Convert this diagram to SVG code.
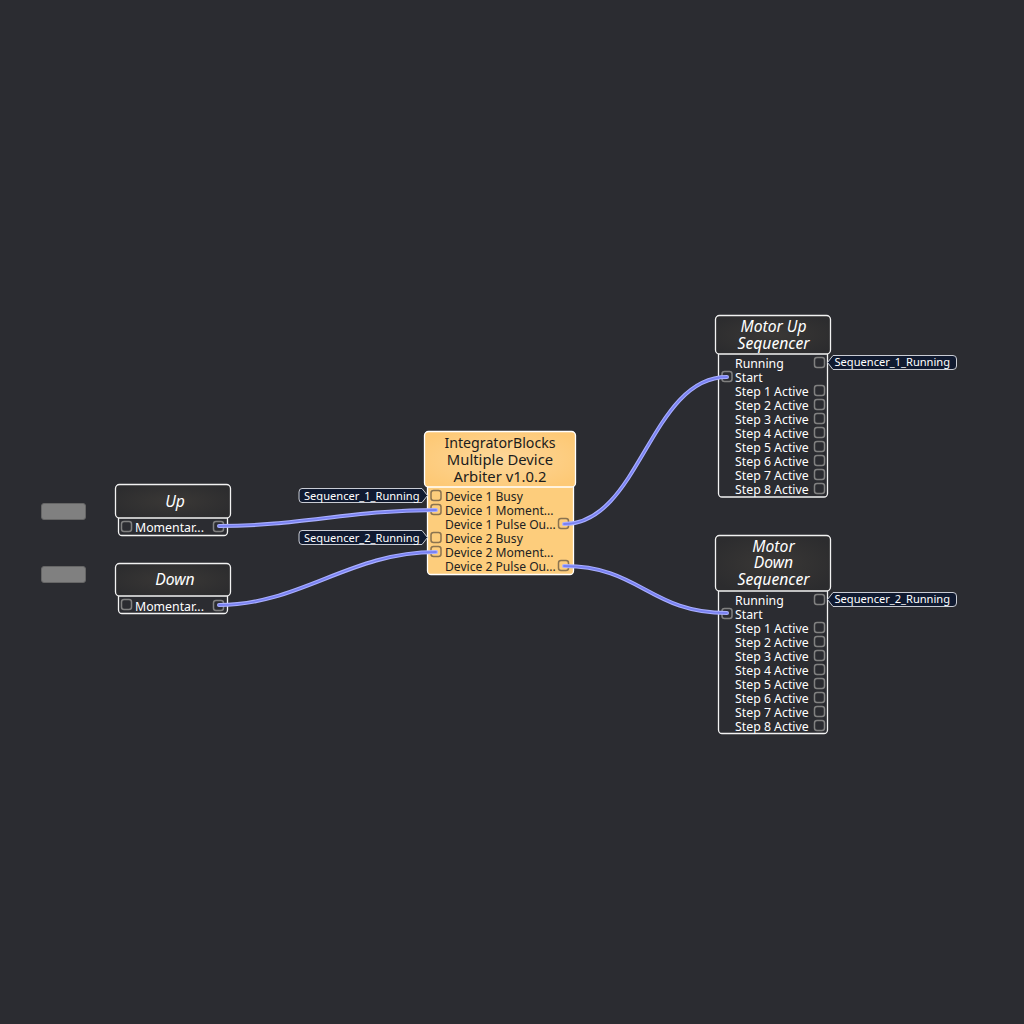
<svg xmlns="http://www.w3.org/2000/svg" width="1024" height="1024" viewBox="0 0 1024 1024">
<defs>
<radialGradient id="gd" cx="50%" cy="50%" r="60%"><stop offset="0" stop-color="#3a3836"/><stop offset="1" stop-color="#2c2c2e"/></radialGradient>
<radialGradient id="go" cx="50%" cy="50%" r="60%"><stop offset="0" stop-color="#fdd79a"/><stop offset="1" stop-color="#fdc976"/></radialGradient>
<style>
text{font-family:"Noto Sans","Open Sans","Liberation Sans",sans-serif}
.hd{fill:url(#gd);stroke:#f2f2f2;stroke-width:1.300}
.bd{fill:#2b2c31;stroke:#f2f2f2;stroke-width:1.300}
.ohd{fill:url(#go);stroke:#fff;stroke-width:1.300}
.obd{fill:#fdcd7c;stroke:#fff;stroke-width:1.300}
.t{font-size:15.700px;font-style:italic;fill:#fff;text-anchor:middle}
.ot{font-size:14.800px;fill:#1c1c1c;text-anchor:middle}
.r{font-size:12.300px;fill:#fff}
.or{font-size:12.100px;fill:#222}
.p{fill:none;stroke:#808080;stroke-width:1.500}
.op{fill:none;stroke:#8a7350;stroke-width:1.500}
.tag{fill:#101a30;stroke:#c9ccd4;stroke-width:1}
.tt{font-size:11.100px;fill:#fff}
.w{fill:none;stroke:#a9afff;stroke-width:4;stroke-linecap:round}
.w2{fill:none;stroke:#7a82f2;stroke-width:1.800;stroke-linecap:round}
.btn{fill:#808080;stroke:#666;stroke-width:1}
</style>
</defs>
<rect width="1024" height="1024" fill="#2b2c31"/>
<g id="button-1"><rect class="btn" x="41.500" y="503.500" width="44" height="16" rx="2.500"/></g>
<g id="button-2"><rect class="btn" x="41.500" y="566.500" width="44" height="16" rx="2.500"/></g>
<g id="up">
<rect class="bd" x="118.500" y="515" width="109" height="20.500" rx="3.500"/>
<rect class="hd" x="115.500" y="484.500" width="115" height="33.500" rx="4"/>
<text class="t" x="175" y="507">Up</text>
<rect class="p" x="121.500" y="521.500" width="10" height="10" rx="2.500"/>
<text class="r" x="135" y="531.500">Momentar...</text>
<rect class="p" x="213.500" y="521.500" width="10" height="10" rx="2.500"/>
</g>
<g id="down">
<rect class="bd" x="118.500" y="593" width="109" height="20.500" rx="3.500"/>
<rect class="hd" x="115.500" y="563.500" width="115" height="32.500" rx="4"/>
<text class="t" x="175" y="585">Down</text>
<rect class="p" x="121.500" y="599.500" width="10" height="10" rx="2.500"/>
<text class="r" x="135" y="610.500">Momentar...</text>
<rect class="p" x="213.500" y="600.500" width="10" height="10" rx="2.500"/>
</g>
<g id="arbiter">
<rect class="obd" x="427.500" y="484" width="146" height="90.500" rx="3.500"/>
<rect class="ohd" x="424.500" y="431.500" width="151" height="55.500" rx="4"/>
<text class="ot" x="500" y="448" style="font-size:14.200px">IntegratorBlocks</text>
<text class="ot" x="500" y="465">Multiple Device</text>
<text class="ot" x="500" y="482">Arbiter v1.0.2</text>
<rect class="op" x="431" y="490.500" width="10" height="10" rx="2.500"/>
<rect class="op" x="431" y="504.500" width="10" height="10" rx="2.500"/>
<rect class="op" x="431" y="532.500" width="10" height="10" rx="2.500"/>
<rect class="op" x="431" y="546.500" width="10" height="10" rx="2.500"/>
<rect class="op" x="558.500" y="518.500" width="10" height="10" rx="2.500"/>
<rect class="op" x="558.500" y="560.500" width="10" height="10" rx="2.500"/>
<text class="or" x="445" y="501">Device 1 Busy</text>
<text class="or" x="445" y="515">Device 1 Moment...</text>
<text class="or" x="445" y="529">Device 1 Pulse Ou...</text>
<text class="or" x="445" y="543">Device 2 Busy</text>
<text class="or" x="445" y="557">Device 2 Moment...</text>
<text class="or" x="445" y="571">Device 2 Pulse Ou...</text>
</g>
<g id="tag-in-1"><path class="tag" d="M302 488.500H422L427.500 495.500L422 502.500H302Q299 502.500 299 499V492Q299 488.500 302 488.500Z"/><text class="tt" x="304" y="499.500">Sequencer_1_Running</text></g>
<g id="tag-in-2"><path class="tag" d="M302 530.500H422L427.500 537.500L422 544.500H302Q299 544.500 299 541V534Q299 530.500 302 530.500Z"/><text class="tt" x="304" y="541.500">Sequencer_2_Running</text></g>
<g id="motor-up">
<rect class="bd" x="718.500" y="350" width="109" height="147" rx="3.500"/>
<rect class="hd" x="715.500" y="315.500" width="115" height="38.500" rx="4"/>
<text class="t" x="773.500" y="332">Motor Up</text>
<text class="t" x="773.500" y="349">Sequencer</text>
<text class="r" x="735" y="368">Running</text><text class="r" x="735" y="382">Start</text>
<text class="r" x="735" y="396">Step 1 Active</text><text class="r" x="735" y="410">Step 2 Active</text><text class="r" x="735" y="424">Step 3 Active</text><text class="r" x="735" y="438">Step 4 Active</text><text class="r" x="735" y="452">Step 5 Active</text><text class="r" x="735" y="466">Step 6 Active</text><text class="r" x="735" y="480">Step 7 Active</text><text class="r" x="735" y="494">Step 8 Active</text>
<rect class="p" x="722" y="371.500" width="10" height="10" rx="2.500"/>
<rect class="p" x="814.500" y="357.500" width="10" height="10" rx="2.500"/>
<rect class="p" x="814.500" y="385.500" width="10" height="10" rx="2.500"/><rect class="p" x="814.500" y="399.500" width="10" height="10" rx="2.500"/><rect class="p" x="814.500" y="413.500" width="10" height="10" rx="2.500"/><rect class="p" x="814.500" y="427.500" width="10" height="10" rx="2.500"/><rect class="p" x="814.500" y="441.500" width="10" height="10" rx="2.500"/><rect class="p" x="814.500" y="455.500" width="10" height="10" rx="2.500"/><rect class="p" x="814.500" y="469.500" width="10" height="10" rx="2.500"/><rect class="p" x="814.500" y="483.500" width="10" height="10" rx="2.500"/>
</g>
<g id="motor-down">
<rect class="bd" x="718.500" y="587" width="109" height="146.500" rx="3.500"/>
<rect class="hd" x="715.500" y="535.500" width="115" height="55.500" rx="4"/>
<text class="t" x="773.500" y="552">Motor</text>
<text class="t" x="773.500" y="568">Down</text>
<text class="t" x="773.500" y="585">Sequencer</text>
<text class="r" x="735" y="605">Running</text><text class="r" x="735" y="619">Start</text>
<text class="r" x="735" y="633">Step 1 Active</text><text class="r" x="735" y="647">Step 2 Active</text><text class="r" x="735" y="661">Step 3 Active</text><text class="r" x="735" y="675">Step 4 Active</text><text class="r" x="735" y="689">Step 5 Active</text><text class="r" x="735" y="703">Step 6 Active</text><text class="r" x="735" y="717">Step 7 Active</text><text class="r" x="735" y="731">Step 8 Active</text>
<rect class="p" x="722" y="608.500" width="10" height="10" rx="2.500"/>
<rect class="p" x="814.500" y="594.500" width="10" height="10" rx="2.500"/>
<rect class="p" x="814.500" y="622.500" width="10" height="10" rx="2.500"/><rect class="p" x="814.500" y="636.500" width="10" height="10" rx="2.500"/><rect class="p" x="814.500" y="650.500" width="10" height="10" rx="2.500"/><rect class="p" x="814.500" y="664.500" width="10" height="10" rx="2.500"/><rect class="p" x="814.500" y="678.500" width="10" height="10" rx="2.500"/><rect class="p" x="814.500" y="692.500" width="10" height="10" rx="2.500"/><rect class="p" x="814.500" y="706.500" width="10" height="10" rx="2.500"/><rect class="p" x="814.500" y="720.500" width="10" height="10" rx="2.500"/>
</g>
<g id="tag-out-1"><path class="tag" d="M953 355.500H833L827.500 362.500L833 369.500H953Q956.500 369.500 956.500 366V359Q956.500 355.500 953 355.500Z"/><text class="tt" x="834.500" y="365.700">Sequencer_1_Running</text></g>
<g id="tag-out-2"><path class="tag" d="M953 592.500H833L827.500 599.500L833 606.500H953Q956.500 606.500 956.500 603V596Q956.500 592.500 953 592.500Z"/><text class="tt" x="834.500" y="602.700">Sequencer_2_Running</text></g>
<g id="connectors">
<path class="w" d="M219 526 C300 526 350 510 436 510"/>
<path class="w" d="M219 605 C300 605 350 552 436 552"/>
<path class="w" d="M564 524 C640 524 650 377 727 377"/>
<path class="w" d="M564 566 C640 566 650 613 727 613"/>
<path class="w2" d="M219 526 C300 526 350 510 436 510"/>
<path class="w2" d="M219 605 C300 605 350 552 436 552"/>
<path class="w2" d="M564 524 C640 524 650 377 727 377"/>
<path class="w2" d="M564 566 C640 566 650 613 727 613"/>
</g>
</svg>
